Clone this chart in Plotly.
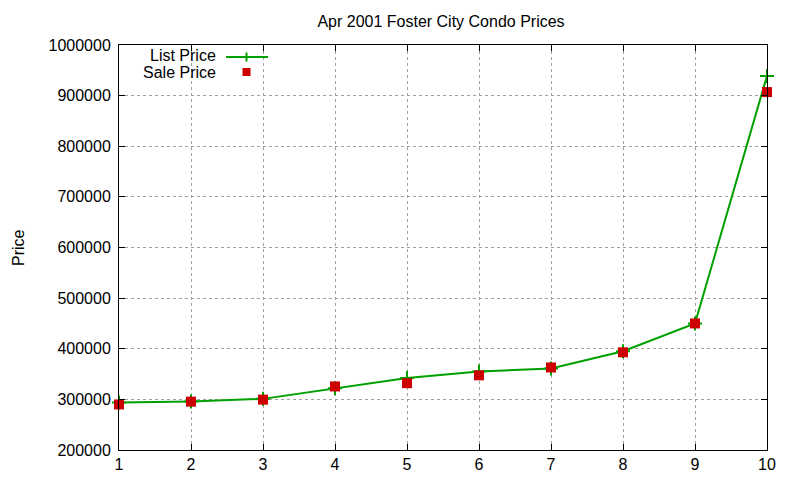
import plotly.graph_objects as go

units = [1, 2, 3, 4, 5, 6, 7, 8, 9, 10]
list_price = [294000, 296000, 301000, 322000, 342000, 355000, 361000, 395000, 450000, 939000]
sale_price = [290000, 295500, 299500, 325500, 332000, 347500, 363000, 393000, 450000, 907000]
y_ticks = [200000, 300000, 400000, 500000, 600000, 700000, 800000, 900000, 1000000]

GREEN = "#00a000"
RED = "#cc0000"
FONT = "Liberation Sans, Arial, sans-serif"

fig = go.Figure()
fig.add_trace(go.Scatter(
    x=units, y=list_price, mode="lines+markers", name="List Price",
    line=dict(color=GREEN, width=2),
    marker=dict(symbol="cross-thin", size=10, line=dict(color=GREEN, width=2), color=GREEN),
    showlegend=False, cliponaxis=False,
))
fig.add_trace(go.Scatter(
    x=units, y=sale_price, mode="markers", name="Sale Price",
    marker=dict(symbol="square", size=10, color=RED),
    showlegend=False, cliponaxis=False,
))

axis_common = dict(
    showline=True, linecolor="black", linewidth=1, mirror="allticks",
    ticks="inside", ticklen=6, tickcolor="black",
    showgrid=True, gridcolor="#a0a0a0", griddash="dot", gridwidth=1,
    zeroline=False, tickfont=dict(family=FONT, size=16, color="black"),
    automargin=False,
)

fig.update_xaxes(range=[1, 10], tickvals=units, **axis_common)
fig.update_yaxes(range=[200000, 1000000], tickvals=y_ticks,
                 ticktext=[str(v) for v in y_ticks], ticklabelstandoff=4, **axis_common)

W, H = 800, 480
OFF = 7  # page offset of the figure in the browser
# reference plot-area geometry (pixels in the screenshot)
RL, RR, RT, RB = 118, 766, 44, 449
L, T = RL - OFF, RT - OFF
R, B = W - RR + OFF, H - RB + OFF

def px(xp):
    return (xp - RL) / (RR - RL)

def py(yp):
    return 1 - (yp - RT) / (RB - RT)

shapes = [
    dict(type="line", xref="paper", yref="paper", x0=px(225), x1=px(267), y0=py(56), y1=py(56),
         line=dict(color=GREEN, width=2)),
    dict(type="line", xref="paper", yref="paper", x0=px(245.5), x1=px(245.5), y0=py(51.5), y1=py(60.5),
         line=dict(color=GREEN, width=2)),
    dict(type="rect", xref="paper", yref="paper", x0=px(241.5), x1=px(249.5), y0=py(67), y1=py(75),
         line=dict(width=0), fillcolor=RED),
]
annotations = [
    dict(text="List Price", xref="paper", yref="paper", x=px(217), y=py(55), xanchor="right",
         yanchor="middle", showarrow=False, font=dict(family=FONT, size=16, color="black")),
    dict(text="Sale Price", xref="paper", yref="paper", x=px(217), y=py(71.5), xanchor="right",
         yanchor="middle", showarrow=False, font=dict(family=FONT, size=16, color="black")),
    dict(text="Price", xref="paper", yref="paper", x=px(17), y=py(247), xanchor="center",
         yanchor="middle", textangle=-90, showarrow=False,
         font=dict(family=FONT, size=16, color="black")),
]

fig.update_layout(
    width=W, height=H,
    margin=dict(l=L, r=R, t=T, b=B),
    paper_bgcolor="white", plot_bgcolor="white",
    title=dict(text="Apr 2001 Foster City Condo Prices", x=(440 - OFF) / W, xanchor="center",
               y=1 - (20 - OFF) / H, yanchor="middle", font=dict(family=FONT, size=16, color="black")),
    shapes=shapes, annotations=annotations,
    showlegend=False,
)

fig.write_html("out.html")
